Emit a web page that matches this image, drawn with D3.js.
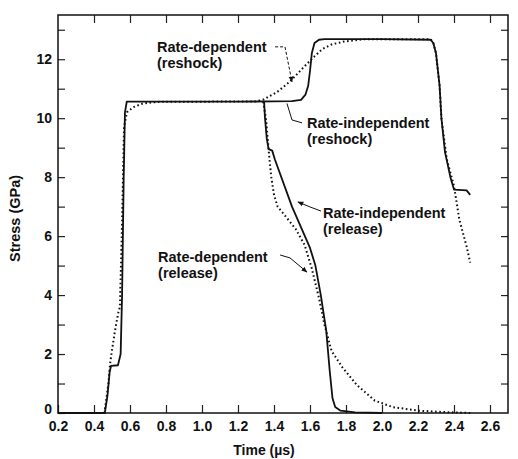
<!DOCTYPE html>
<html>
<head>
<meta charset="utf-8">
<script src="https://cdn.jsdelivr.net/npm/d3@7"></script>
<style>
  body { margin: 0; background: #fff; }
  svg text { font-family: "Liberation Sans", Arial, sans-serif; fill: #111; }
</style>
</head>
<body>
<svg width="518" height="459"></svg>
<script>
// time (us) and stress (GPa) pairs
const rateIndependentReshock = [
    [0.2, 0], [0.46, 0], [0.475, 0.6], [0.487, 1.4], [0.495, 1.6], [0.533, 1.62],
    [0.548, 2.0], [0.556, 4.0], [0.565, 8.0], [0.572, 10.2], [0.582, 10.56],
    [0.8, 10.56], [1.2, 10.56], [1.5, 10.58], [1.55, 10.62], [1.575, 10.8],
    [1.59, 11.1], [1.6, 11.6], [1.61, 12.2], [1.625, 12.55], [1.65, 12.66],
    [1.68, 12.68], [2.0, 12.68], [2.27, 12.66], [2.285, 12.55], [2.30, 12.2],
    [2.32, 11.1], [2.33, 10.0], [2.35, 8.85], [2.38, 8.0], [2.40, 7.58],
    [2.47, 7.55], [2.49, 7.4]
];
const rateIndependentRelease = [
    [1.345, 10.56], [1.35, 10.0], [1.36, 9.3], [1.37, 8.95], [1.39, 8.9],
    [1.405, 8.6], [1.5, 7.0], [1.6, 5.6], [1.63, 5.0], [1.66, 4.0],
    [1.69, 2.8], [1.71, 1.4], [1.725, 0.5], [1.74, 0.2], [1.77, 0.08],
    [1.85, 0.02], [2.0, 0]
];
const rateDependentReshock = [
    [0.2, 0], [0.458, 0], [0.48, 1.0], [0.49, 1.7], [0.50, 2.14], [0.517, 2.8],
    [0.535, 3.4], [0.544, 3.6], [0.555, 6.2], [0.567, 9.7], [0.583, 10.2],
    [0.617, 10.37], [0.672, 10.5], [0.77, 10.56], [1.0, 10.56], [1.3, 10.57],
    [1.34, 10.63], [1.42, 10.9], [1.49, 11.25], [1.56, 11.7], [1.62, 12.07],
    [1.67, 12.35], [1.72, 12.5], [1.79, 12.6], [1.9, 12.68], [2.27, 12.68],
    [2.285, 12.55], [2.30, 12.2], [2.32, 11.1], [2.33, 10.0], [2.36, 8.6],
    [2.40, 7.7], [2.43, 6.55], [2.47, 5.65], [2.49, 5.1]
];
const rateDependentRelease = [
    [1.34, 10.56], [1.355, 10.0], [1.365, 9.3], [1.375, 8.6], [1.385, 8.0],
    [1.40, 7.4], [1.42, 7.0], [1.46, 6.7], [1.52, 6.25], [1.57, 5.7],
    [1.61, 4.9], [1.65, 3.9], [1.68, 3.0], [1.72, 2.1], [1.78, 1.55],
    [1.86, 0.95], [1.96, 0.42], [2.06, 0.2], [2.2, 0.08], [2.35, 0.03], [2.5, 0]
];

const xTicks = [0.2, 0.4, 0.6, 0.8, 1.0, 1.2, 1.4, 1.6, 1.8, 2.0, 2.2, 2.4, 2.6];
const yTicks = [0, 1, 2, 3, 4, 5, 6, 7, 8, 9, 10, 11, 12, 13];

// annotations: text lines, anchor (t, stress) and leader points
const notes = [
    { lines: ["Rate-dependent", "(reshock)"], at: [0.75, 12.25],
      leader: [[1.406, 12.42], [1.461, 12.42], [1.50, 11.23]], dashed: true, arrow: true },
    { lines: ["Rate-independent", "(reshock)"], at: [1.583, 9.67],
      leader: [[1.556, 9.84], [1.50, 9.94], [1.472, 10.5]], dashed: false, arrow: false },
    { lines: ["Rate-independent", "(release)"], at: [1.672, 6.61],
      leader: [[1.661, 6.85], [1.60, 6.99], [1.533, 7.16]], dashed: false, arrow: true },
    { lines: ["Rate-dependent", "(release)"], at: [0.756, 5.12],
      leader: [[1.434, 5.36], [1.489, 5.26], [1.583, 4.78]], dashed: false, arrow: true }
];

const svg = d3.select("svg");
const margin = { top: 15, right: 10, bottom: 46, left: 58 };
const width = +svg.attr("width") - margin.left - margin.right;
const height = +svg.attr("height") - margin.top - margin.bottom;

const x = d3.scaleLinear().domain([0.2, 2.7]).range([margin.left, margin.left + width]);
const y = d3.scaleLinear().domain([0, 13.5]).range([margin.top + height, margin.top]);

svg.append("defs").append("marker")
    .attr("id", "arr")
    .attr("viewBox", "0 0 10 10")
    .attr("refX", 9).attr("refY", 5)
    .attr("markerWidth", 6).attr("markerHeight", 6)
    .attr("orient", "auto")
    .append("path").attr("d", "M0,1 L10,5 L0,9 Z").attr("fill", "#111");

// axes, ticks inward
const fmtX = d3.format(".1f");
svg.append("g")
    .attr("transform", `translate(0,${margin.top + height})`)
    .call(d3.axisBottom(x).tickValues(xTicks).tickSizeInner(-8).tickSizeOuter(0).tickPadding(8).tickFormat(fmtX));
svg.append("g")
    .attr("transform", `translate(0,${margin.top})`)
    .call(d3.axisTop(x).tickValues(xTicks.slice(1)).tickSizeInner(-8).tickSizeOuter(0).tickFormat(""));
const gy = svg.append("g")
    .attr("transform", `translate(${margin.left},0)`)
    .call(d3.axisLeft(y).tickValues(yTicks).tickSizeInner(-7).tickSizeOuter(0).tickPadding(6)
        .tickFormat(d => d % 2 === 0 ? d : ""));
svg.append("g")
    .attr("transform", `translate(${margin.left + width},0)`)
    .call(d3.axisRight(y).tickValues(yTicks.slice(1)).tickSizeInner(-7).tickSizeOuter(0).tickFormat(""));

svg.selectAll(".domain").remove();
svg.selectAll(".tick line").attr("stroke", "#222").attr("stroke-width", 1.2);
svg.selectAll(".tick text")
    .style("font-size", "14px")
    .style("font-weight", "bold")
    .attr("fill", "#111");
// lift the "0" so it clears the "0.2" below it
gy.selectAll(".tick text").filter(d => d === 0).attr("dy", "0.05em");

svg.append("rect")
    .attr("x", margin.left).attr("y", margin.top)
    .attr("width", width).attr("height", height)
    .attr("fill", "none").attr("stroke", "#111").attr("stroke-width", 1.5);

// axis titles
svg.append("text")
    .attr("x", 264).attr("y", 455)
    .attr("text-anchor", "middle")
    .style("font-size", "14px")
    .style("font-weight", "bold")
    .text("Time (µs)");
svg.append("text")
    .attr("transform", `translate(20,${y(6.6)}) rotate(-90)`)
    .attr("text-anchor", "middle")
    .style("font-size", "14.5px")
    .style("font-weight", "bold")
    .text("Stress (GPa)");

// curves
const line = d3.line().x(d => x(d[0])).y(d => y(d[1]));

svg.append("path").datum(rateDependentReshock)
    .attr("d", line).attr("fill", "none")
    .attr("stroke", "#111").attr("stroke-width", 2)
    .attr("stroke-dasharray", "1.6,2.6");
svg.append("path").datum(rateDependentRelease)
    .attr("d", line).attr("fill", "none")
    .attr("stroke", "#111").attr("stroke-width", 2)
    .attr("stroke-dasharray", "1.6,2.6");
svg.append("path").datum(rateIndependentReshock)
    .attr("d", line).attr("fill", "none")
    .attr("stroke", "#111").attr("stroke-width", 1.8)
    .attr("stroke-linejoin", "round");
svg.append("path").datum(rateIndependentRelease)
    .attr("d", line).attr("fill", "none")
    .attr("stroke", "#111").attr("stroke-width", 1.8)
    .attr("stroke-linejoin", "round");

// annotations
notes.forEach(n => {
    const t = svg.append("text")
        .attr("x", x(n.at[0])).attr("y", y(n.at[1]))
        .style("font-size", "14.5px")
        .style("font-weight", "bold");
    n.lines.forEach((s, i) => {
        t.append("tspan").attr("x", x(n.at[0])).attr("dy", i === 0 ? 0 : 16).text(s);
    });
    svg.append("path").datum(n.leader)
        .attr("d", d3.line().x(d => x(d[0])).y(d => y(d[1])))
        .attr("fill", "none").attr("stroke", "#111").attr("stroke-width", 1)
        .attr("stroke-dasharray", n.dashed ? "3,2" : null)
        .attr("marker-end", n.arrow ? "url(#arr)" : null);
});
</script>
</body>
</html>
